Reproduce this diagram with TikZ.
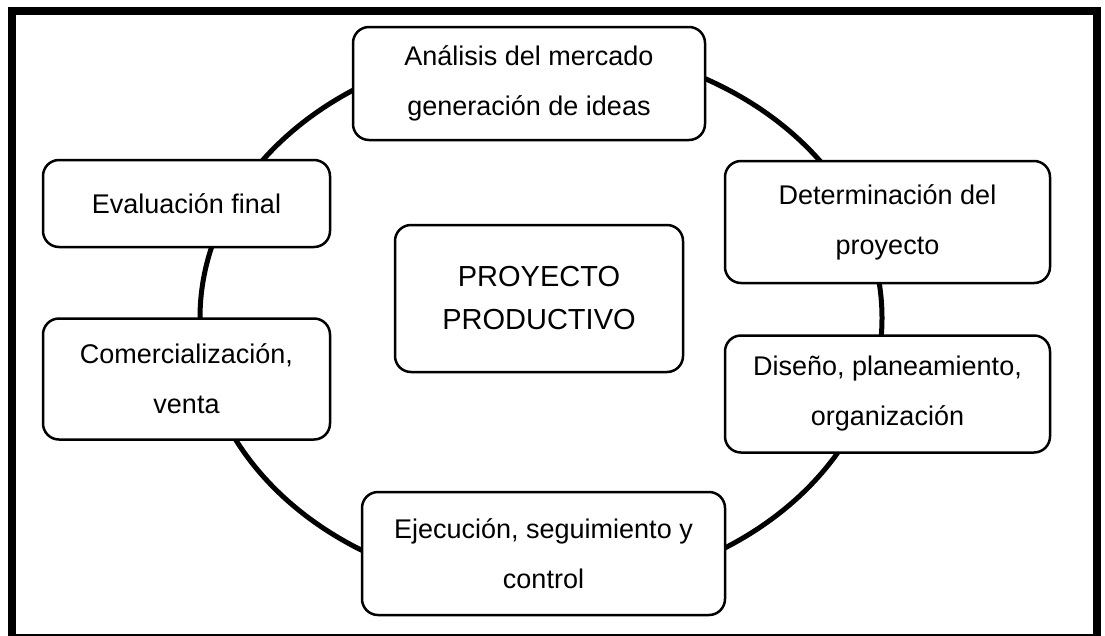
\documentclass[tikz,border=0pt]{standalone}
\usepackage{fontspec}
\setmainfont{Liberation Sans}
\usetikzlibrary{positioning}
\tikzstyle{box} = [rectangle, draw, line width=2.5pt, rounded corners=16pt, fill=white, inner sep=2pt, text centered, align=center, font=\fontsize{27}{50}\selectfont]
\tikzstyle{ring} = [draw, line width=5pt]
\tikzstyle{frame} = [draw, line width=8pt]

\begin{document}
\begin{tikzpicture}[x=1pt, y=-1pt]

	\useasboundingbox (0,0) rectangle (1105,635);
	\path [frame] (12,11) rectangle (1096.5,638);

	\coordinate (c) at (541,318);
	\path [ring] (c) ellipse [x radius=341pt, y radius=273pt];

	\node [box, minimum width=288pt, minimum height=147pt, font=\fontsize{29}{43}\selectfont] (pp) at (539,298.5) {PROYECTO\\PRODUCTIVO};

	\node [box, minimum width=352pt, minimum height=113pt] (mercado) at (529,83.5) {Análisis del mercado\\generación de ideas};
	\node [box, minimum width=325pt, minimum height=122pt] (det) at (887.5,222) {Determinación del\\proyecto};
	\node [box, minimum width=325pt, minimum height=117pt, below=50pt of det] (dis) {Diseño, planeamiento,\\organización};
	\node [box, minimum width=363pt, minimum height=123pt] (eje) at (543.5,553.5) {Ejecución, seguimiento y\\control};
	\node [box, minimum width=287pt, minimum height=87pt] (eval) at (186.5,203.5) {Evaluación final};
	\node [box, minimum width=287pt, minimum height=121pt, below=69pt of eval] (com) {Comercialización,\\venta};

\end{tikzpicture}
\end{document}
